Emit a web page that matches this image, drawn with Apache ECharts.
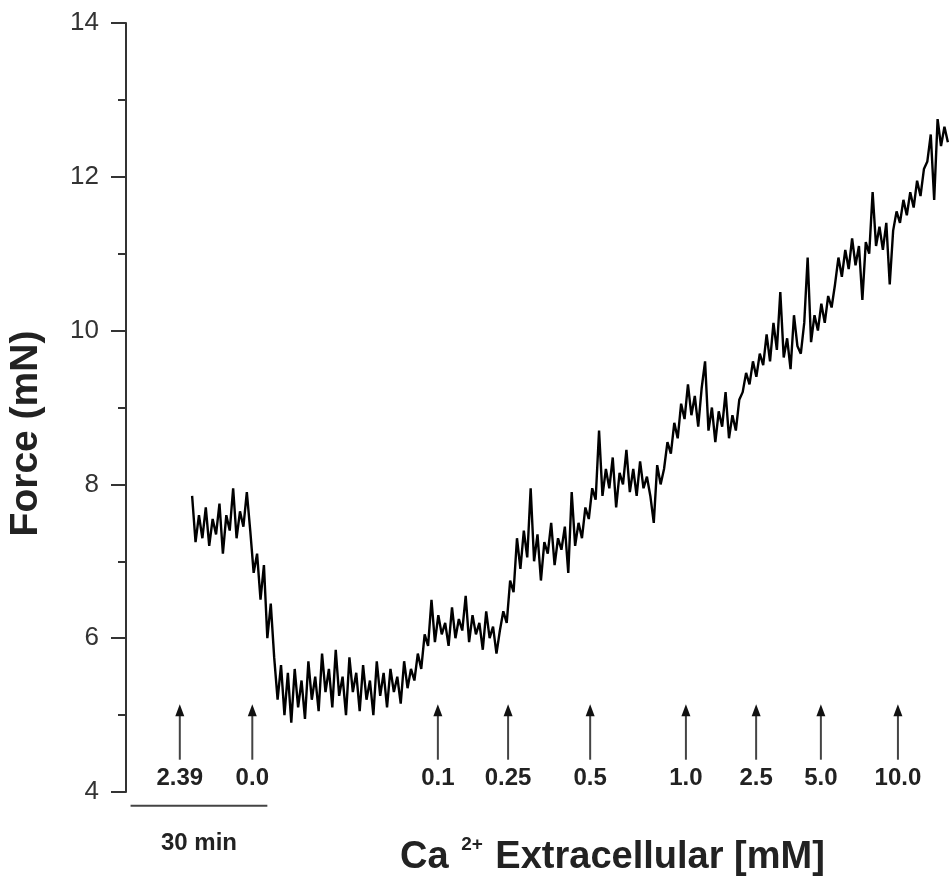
<!DOCTYPE html>
<html>
<head>
<meta charset="utf-8">
<script src="https://cdn.jsdelivr.net/npm/echarts@6/dist/echarts.min.js"></script>
<style>
html, body { margin: 0; padding: 0; background: #fff; }
#chart { width: 949px; height: 876px; }
</style>
</head>
<body>
<div id="chart"></div>
<script>
// force trace (mN), one array per extracellular Ca step
var ca239 = [7.85, 7.25, 7.6, 7.3, 7.7, 7.2, 7.55, 7.35, 7.75, 7.1, 7.6, 7.4, 7.95, 7.3, 7.65, 7.45, 7.9];
var ca0 = [7.4, 6.85, 7.1, 6.5, 6.95, 6.0, 6.45, 5.75,
  5.2, 5.65, 5.0, 5.55, 4.9, 5.6, 5.1, 5.45, 4.95, 5.7,
  5.2, 5.5, 5.05, 5.8, 5.3, 5.6, 5.1, 5.85, 5.25, 5.5,
  5.0, 5.75, 5.3, 5.55, 5.05, 5.65, 5.2, 5.45, 5.0, 5.7,
  5.25, 5.55, 5.1, 5.6, 5.3, 5.5, 5.15, 5.7, 5.35, 5.6,
  5.45, 5.8, 5.6, 6.05, 5.9, 6.5, 5.95];
var ca01 = [6.3, 6.05, 6.2, 5.9, 6.4, 6.0, 6.25, 6.1, 6.55, 5.95, 6.3, 6.05, 6.2, 5.85, 6.35, 6.0, 6.15, 5.8, 6.1, 6.35];
var ca025 = [6.2, 6.75, 6.6, 7.3, 6.9, 7.4, 7.05, 7.95, 7.0, 7.35, 6.75, 7.25, 7.1, 7.5, 6.95, 7.3, 7.15, 7.45, 6.85, 7.9, 7.2, 7.5, 7.3, 7.7];
var ca05 = [7.55, 7.95, 7.8, 8.7, 7.85, 8.2, 7.95, 8.35, 7.7, 8.15, 8.0, 8.45, 7.9, 8.2, 7.85, 8.3, 7.95, 8.1, 7.85, 7.5, 8.25, 8.0, 8.2, 8.55, 8.4, 8.8, 8.6, 9.05];
var ca1 = [8.85, 9.3, 8.9, 9.15, 8.75, 9.25, 9.6, 8.7, 9.0, 8.55, 8.95, 8.75, 9.2, 8.6, 8.9, 8.7, 9.1, 9.2, 9.45, 9.3, 9.6];
var ca25 = [9.4, 9.7, 9.55, 9.95, 9.6, 10.1, 9.75, 10.5, 9.65, 9.9, 9.5, 10.2, 9.8, 9.7, 10.1, 10.95, 9.85, 10.2, 10.0];
var ca5 = [10.35, 10.1, 10.45, 10.3, 10.6, 10.95, 10.7, 11.05, 10.8, 11.2, 10.85, 11.1, 10.4, 11.15, 11.0, 11.8, 11.1, 11.35, 11.05, 11.4, 10.6, 11.3];
var ca10 = [11.55, 11.4, 11.7, 11.5, 11.8, 11.6, 11.95, 11.75, 12.1, 12.2, 12.55, 11.7, 12.75, 12.4, 12.65, 12.45];

var startMin = 14.5;  // time of first sample (min)
var stepMin = 0.75;   // sampling step (min)

// arrows where the bath Ca2+ was changed
var arrowTimes = [11.8, 27.7, 68.4, 83.8, 101.8, 122.8, 138.2, 152.4, 169.3];
var arrowLabels = ['2.39', '0.0', '0.1', '0.25', '0.5', '1.0', '2.5', '5.0', '10.0'];

// 30 min scale bar
var scaleBar = [[1, 31]];
var scaleText = '30 min';

var FONT = '"Liberation Sans", Arial, sans-serif';

var force = [].concat(ca239, ca0, ca01, ca025, ca05, ca1, ca25, ca5, ca10);
var trace = force.map(function (v, i) {
  return [startMin + i * stepMin, v];
});

function drawArrow(params, api) {
  var t = api.value(0);
  var base = api.coord([t, 4.42]);
  var tip = api.coord([t, 5.14]);
  var lab = api.coord([t, 4.18]);
  return {
    type: 'group',
    children: [
      { type: 'line', shape: { x1: base[0], y1: base[1], x2: tip[0], y2: tip[1] + 8 },
        style: { stroke: '#444', lineWidth: 2 } },
      { type: 'polygon', shape: { points: [[tip[0], tip[1]], [tip[0] - 4.5, tip[1] + 12], [tip[0] + 4.5, tip[1] + 12]] },
        style: { fill: '#111' } },
      { type: 'text', x: lab[0], y: lab[1],
        style: { text: arrowLabels[params.dataIndex], align: 'center', verticalAlign: 'middle',
          textAlign: 'center', textVerticalAlign: 'middle',
          fontSize: 24, fontWeight: 'bold', fontFamily: FONT, fill: '#222' } }
    ]
  };
}

function drawScale(params, api) {
  var a = api.coord([api.value(0), 3.82]);
  var b = api.coord([api.value(1), 3.82]);
  var c = api.coord([(api.value(0) + api.value(1)) / 2, 3.33]);
  return {
    type: 'group',
    children: [
      { type: 'line', shape: { x1: a[0], y1: a[1], x2: b[0], y2: b[1] },
        style: { stroke: '#444', lineWidth: 2 } },
      { type: 'text', x: c[0], y: c[1],
        style: { text: scaleText, align: 'center', verticalAlign: 'middle',
          textAlign: 'center', textVerticalAlign: 'middle',
          fontSize: 24, fontWeight: 'bold', fontFamily: FONT, fill: '#222' } }
    ]
  };
}

var chart = echarts.init(document.getElementById('chart'));
var option = {
  animation: false,
  backgroundColor: '#fff',
  title: {
    text: '{b|Ca }{s|2+}{b| Extracellular [mM]}',
    left: 395,
    top: 830,
    textStyle: {
      rich: {
        b: { fontSize: 38, fontWeight: 'bold', fontFamily: FONT, color: '#222' },
        s: { fontSize: 19, fontWeight: 'bold', fontFamily: FONT, color: '#222', padding: [0, 2, 26, 2] }
      }
    }
  },
  grid: { left: 126, right: 0, top: 23, bottom: 84, containLabel: false, outerBoundsMode: 'none' },
  xAxis: {
    type: 'value',
    min: 0,
    max: 180.5,
    show: false
  },
  yAxis: {
    type: 'value',
    min: 4,
    max: 14,
    interval: 2,
    name: 'Force (mN)',
    nameLocation: 'middle',
    nameGap: 80,
    nameTextStyle: { fontSize: 39, fontWeight: 'bold', fontFamily: FONT, color: '#222', padding: [0, 52, 0, 0] },
    axisLine: { show: true, lineStyle: { color: '#333', width: 2 } },
    axisTick: { show: true, length: 15, lineStyle: { color: '#333', width: 2 } },
    minorTick: { show: true, splitNumber: 2, length: 8, lineStyle: { color: '#333', width: 2 } },
    axisLabel: { fontSize: 26, fontFamily: FONT, color: '#333', margin: 27 },
    splitLine: { show: false }
  },
  series: [
    {
      type: 'line',
      data: trace,
      showSymbol: false,
      symbol: 'none',
      lineStyle: { color: '#000', width: 2.4 },
      silent: true
    },
    {
      type: 'custom',
      data: arrowTimes.map(function (t, i) { return [t, i]; }),
      renderItem: drawArrow,
      clip: false,
      silent: true
    },
    {
      type: 'custom',
      data: scaleBar,
      renderItem: drawScale,
      clip: false,
      silent: true
    }
  ]
};
chart.setOption(option);
</script>
</body>
</html>
